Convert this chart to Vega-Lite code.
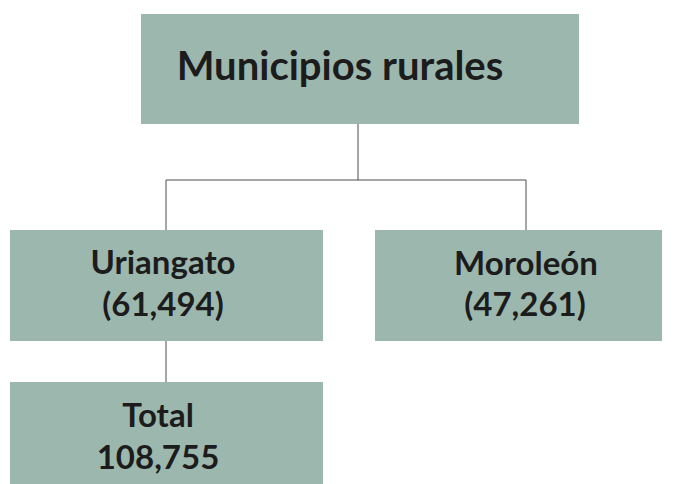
{
  "$schema": "https://vega.github.io/schema/vega-lite/v6.json",
  "width": 677,
  "height": 484,
  "autosize": {"type": "fit", "contains": "padding"},
  "padding": 0,
  "background": "white",
  "config": {"view": {"stroke": null}},
  "datasets": {
    "boxes": [
      {"node": "Municipios rurales", "x0": 141, "x1": 579, "y0": 14, "y1": 124},
      {"node": "Uriangato", "x0": 10, "x1": 323, "y0": 230, "y1": 341},
      {"node": "Moroleón", "x0": 375, "x1": 662, "y0": 230, "y1": 341},
      {"node": "Total", "x0": 10, "x1": 323, "y0": 382, "y1": 484}
    ],
    "links": [
      {"x0": 358, "x1": 358, "y0": 124, "y1": 180},
      {"x0": 166, "x1": 526, "y0": 180, "y1": 180},
      {"x0": 166, "x1": 166, "y0": 180, "y1": 230},
      {"x0": 526, "x1": 526, "y0": 180, "y1": 230},
      {"x0": 166, "x1": 166, "y0": 341, "y1": 382}
    ],
    "labels": [
      {"text": "Municipios rurales", "kind": "title", "x": 340, "y": 80},
      {"text": "Uriangato", "kind": "node", "x": 163, "y": 274},
      {"text": "(61,494)", "kind": "node", "x": 163, "y": 316},
      {"text": "Moroleón", "kind": "node", "x": 526, "y": 275},
      {"text": "(47,261)", "kind": "node", "x": 525, "y": 316},
      {"text": "Total", "kind": "node", "x": 158, "y": 427},
      {"text": "108,755", "kind": "node", "x": 158, "y": 469}
    ]
  },
  "layer": [
    {
      "data": {"name": "boxes"},
      "mark": {"type": "rect", "color": "#9cb8ae"},
      "encoding": {
        "x": {"field": "x0", "type": "quantitative", "scale": {"domain": [0, 677], "nice": false, "zero": false}, "axis": null},
        "x2": {"field": "x1"},
        "y": {"field": "y0", "type": "quantitative", "scale": {"domain": [0, 484], "nice": false, "zero": false, "reverse": true}, "axis": null},
        "y2": {"field": "y1"}
      }
    },
    {
      "data": {"name": "links"},
      "mark": {"type": "rule", "color": "#4a4a4a", "strokeWidth": 1},
      "encoding": {
        "x": {"field": "x0", "type": "quantitative"},
        "x2": {"field": "x1"},
        "y": {"field": "y0", "type": "quantitative"},
        "y2": {"field": "y1"}
      }
    },
    {
      "data": {"name": "labels"},
      "transform": [{"filter": "datum.kind === 'title'"}],
      "mark": {"type": "text", "font": "Lato", "fontWeight": "bold", "fontSize": 40, "color": "#1c1c1c", "align": "center", "baseline": "alphabetic"},
      "encoding": {
        "x": {"field": "x", "type": "quantitative"},
        "y": {"field": "y", "type": "quantitative"},
        "text": {"field": "text"}
      }
    },
    {
      "data": {"name": "labels"},
      "transform": [{"filter": "datum.kind === 'node'"}],
      "mark": {"type": "text", "font": "Lato", "fontWeight": "bold", "fontSize": 33, "color": "#1c1c1c", "align": "center", "baseline": "alphabetic"},
      "encoding": {
        "x": {"field": "x", "type": "quantitative"},
        "y": {"field": "y", "type": "quantitative"},
        "text": {"field": "text"}
      }
    }
  ]
}
